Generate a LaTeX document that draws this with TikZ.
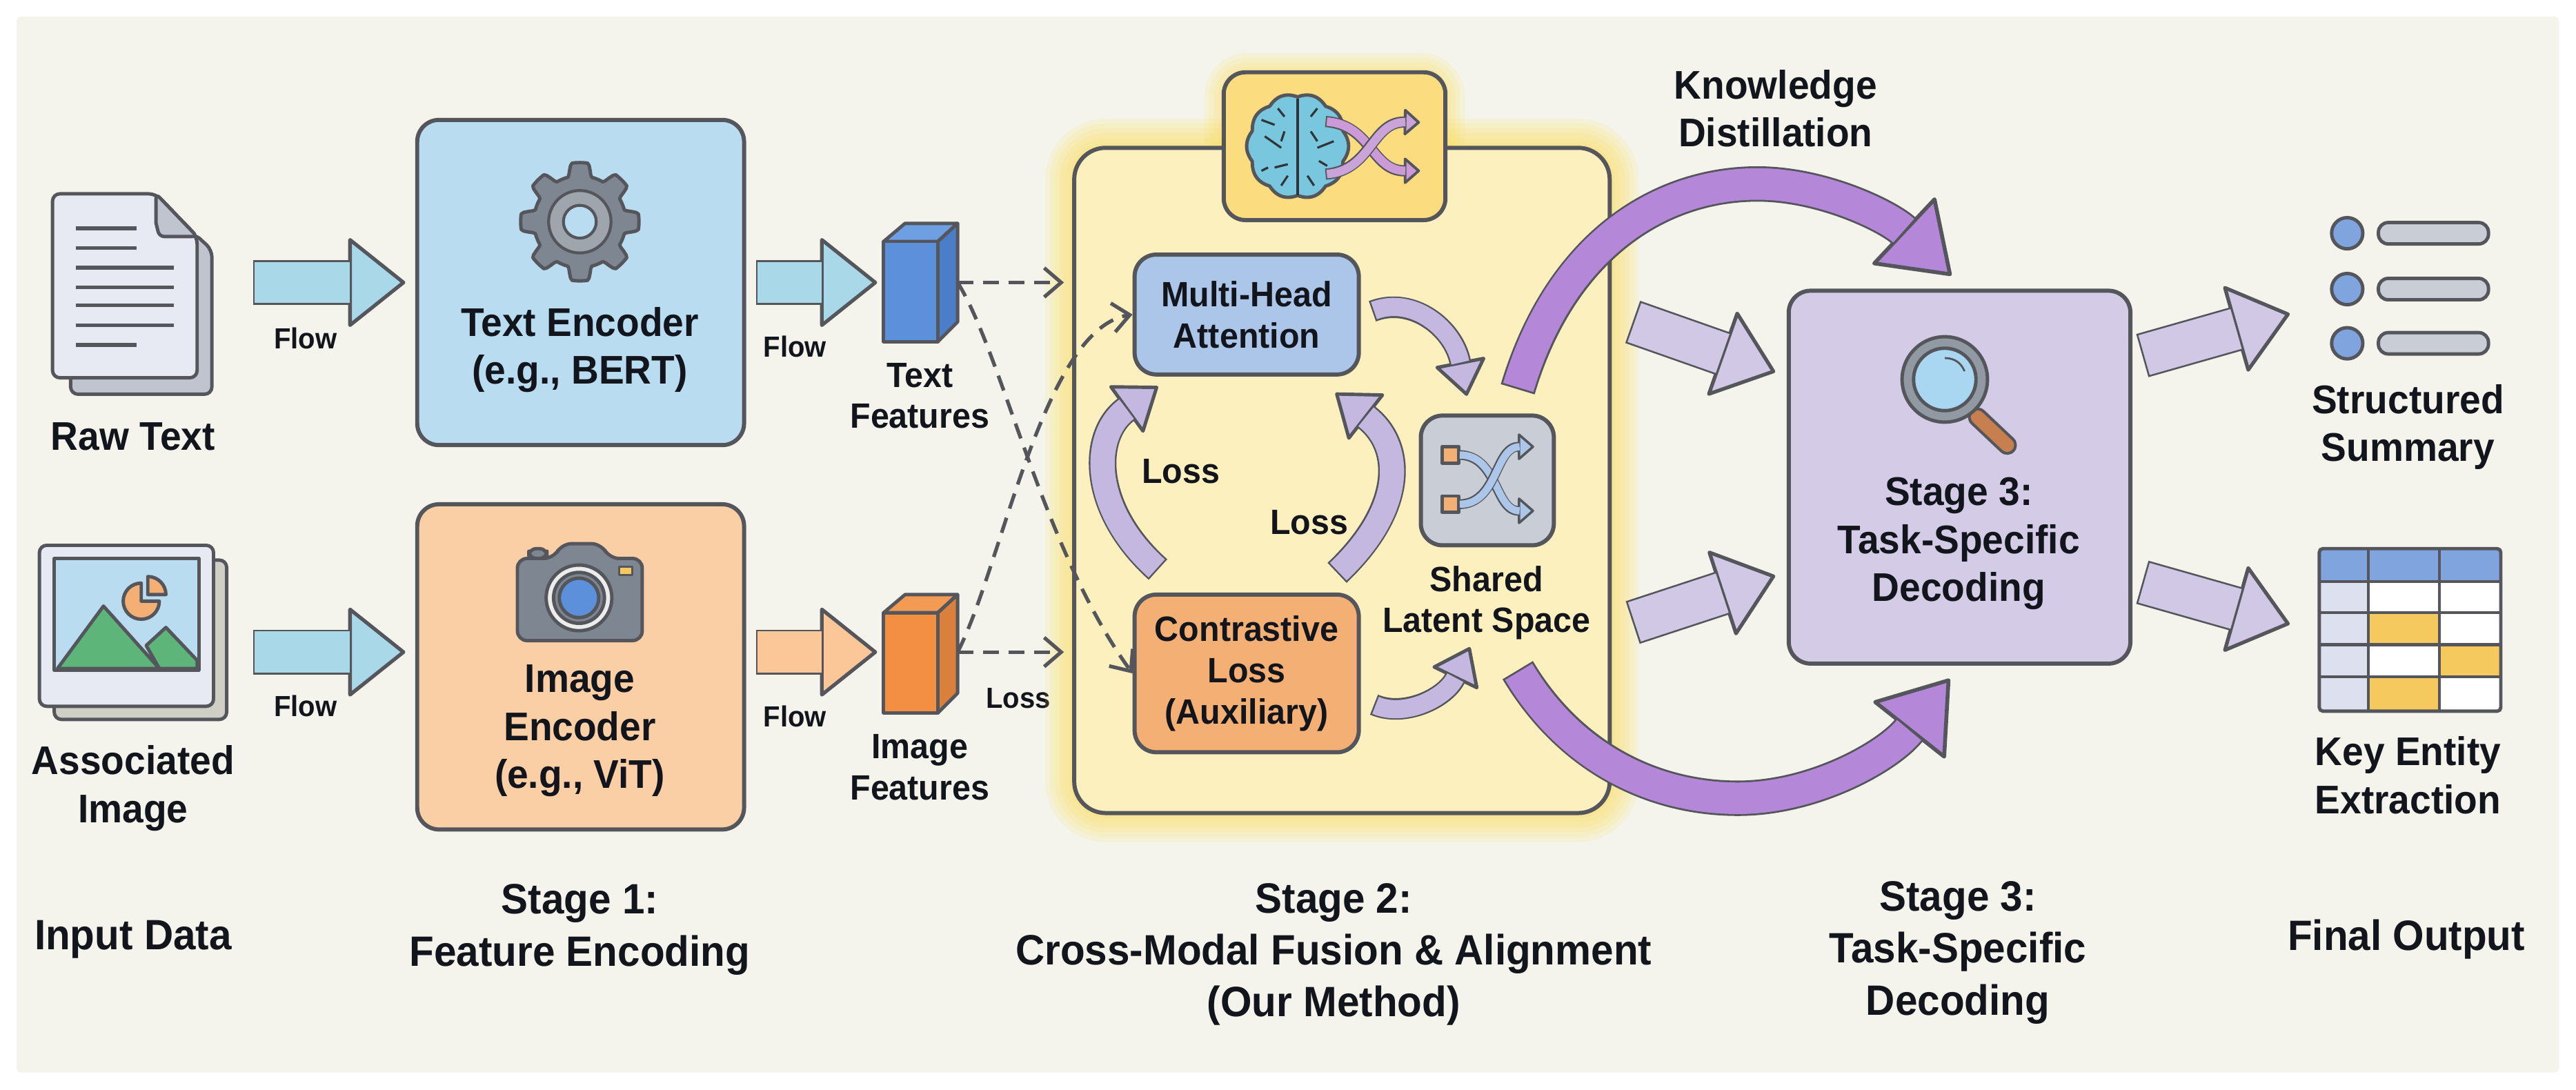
\documentclass[tikz,border=0pt]{standalone}
\usepackage{fontspec}
\usepackage{xcolor}
\setmainfont{Liberation Sans}[FakeStretch=0.95]
\usetikzlibrary{arrows.meta,calc}
\definecolor{pagebg}{HTML}{F4F4EC}
\definecolor{linegray}{HTML}{54565C}
\definecolor{inkdark}{HTML}{12151C}
\definecolor{encblue}{HTML}{B9DCF1}
\definecolor{encorange}{HTML}{FBCFA6}
\definecolor{flowblue}{HTML}{A9D8E9}
\definecolor{floworange}{HTML}{FBC698}
\definecolor{softpurple}{HTML}{D0C8E5}
\definecolor{midpurple}{HTML}{C5B8E0}
\definecolor{deeppurple}{HTML}{B487D9}
\definecolor{stagepurple}{HTML}{D4CCE7}
\definecolor{panelyellow}{HTML}{FDF0BF}
\definecolor{tabyellow}{HTML}{FBDC7E}
\definecolor{glowyellow}{HTML}{FFDF5C}
\definecolor{attblue}{HTML}{ABC6E8}
\definecolor{conorange}{HTML}{F4AF74}
\definecolor{sharedgray}{HTML}{C9CED6}
\definecolor{iconblue}{HTML}{7FA4DE}
\definecolor{icongray}{HTML}{7E8791}
\definecolor{cellyellow}{HTML}{F6C95E}
\definecolor{celllilac}{HTML}{DDE0EF}
\definecolor{sheetlight}{HTML}{E8EAF3}
\definecolor{sheetback}{HTML}{BFC4CF}
\definecolor{photoback}{HTML}{CFCFC5}
\definecolor{hillgreen}{HTML}{5DB57A}
\definecolor{lensblue}{HTML}{A9D7F2}
\definecolor{handlebrown}{HTML}{C77F50}
\definecolor{brainblue}{HTML}{79C6DF}
\definecolor{crosspink}{HTML}{CC9AD6}
\definecolor{cubeblue}{HTML}{5C90DB}
\definecolor{cubebluetop}{HTML}{6E9FE3}
\definecolor{cubeblueside}{HTML}{4A7EC8}
\definecolor{cubeorange}{HTML}{F28F42}
\definecolor{cubeorangetop}{HTML}{F39A55}
\definecolor{cubeorangeside}{HTML}{D9803C}
\newcommand{\tu}{0.2381mm}
\tikzset{
  stagebox/.style={draw=linegray, line width=1.7pt, rounded corners=9pt, inner sep=0pt, minimum width=#1},
  biglabel/.style={font=\bfseries\fontsize{16.5}{19.8}\selectfont, align=center, inner sep=0pt, text=inkdark},
  caption/.style={font=\bfseries\fontsize{17.5}{21.4}\selectfont, align=center, inner sep=0pt, text=inkdark},
  midlabel/.style={font=\bfseries\fontsize{14.5}{17}\selectfont, align=center, inner sep=0pt, text=inkdark},
  smalllabel/.style={font=\bfseries\fontsize{12}{14}\selectfont, inner sep=0pt, text=inkdark},
  iconline/.style={draw=linegray, line width=1.4pt, line join=round},
  dashline/.style={draw=linegray, line width=1.5pt, dash pattern=on 6.5pt off 4pt, -{Straight Barb[length=7pt,width=12pt]}},
  fat/.style n args={5}{draw=#1, line width=#2, shorten >=#3-1pt, shorten <=#5/2,
    preaction={draw=linegray, line width=#2+#5, shorten >=0pt, shorten <=0pt,
      -{Triangle[round,length=#3,width=#4,fill=#1,line width=#5]}}},
  flowarrow/.style={fat={#1}{17pt}{24pt}{38pt}{1.5pt}},
  looparrow/.style={fat={midpurple}{7.5pt}{15pt}{22pt}{1.4pt}},
  lossarrow/.style={fat={midpurple}{10pt}{17pt}{25pt}{1.4pt}},
  distarrow/.style={fat={deeppurple}{13pt}{28pt}{39pt}{1.6pt}}
}

\begin{document}
\begin{tikzpicture}[x=0.2381mm, y=-0.2381mm]
  \useasboundingbox (0,0) rectangle (1568.3,663.6);
  \fill[pagebg, rounded corners=2pt] (10,10) rectangle (1558,653);

  \draw[iconline, fill=sheetback, rounded corners=3pt] (43,225) -- (43,240) -- (129,240) -- (129,152) -- (118,142) -- cycle;
  \draw[iconline, fill=sheetlight, rounded corners=3pt] (32,118) -- (95,118) -- (120,144) -- (120,230) -- (32,230) -- cycle;
  \draw[iconline, fill=sheetback] (95,118) -- (95,136) [rounded corners=2pt] -- (97,144) -- (120,144) -- cycle;
  \foreach \yy/\xe in {139/83,151/83,163/106,175/106,186/106,198/106,210/83}
    \draw[linegray, line width=1.5pt] (46,\yy) -- (\xe,\yy);
  \node[biglabel] (rawtext) at (81,266) {Raw Text};

  \draw[iconline, fill=photoback, rounded corners=3pt] (33,341) rectangle (138,438);
  \draw[iconline, fill=sheetlight, rounded corners=3pt] (24,332) rectangle (130,430);
  \fill[encblue] (33,340) rectangle (121,408);
  \draw[iconline, fill=hillgreen] (35,407) -- (63,369) -- (97,407) -- cycle;
  \draw[iconline, fill=hillgreen] (89,393) -- (101,382) -- (120,402) -- (120,407) -- (97,407) -- cycle;
  \draw[iconline, fill=conorange] (86,366) -- ++(0,-11) arc[start angle=-90, end angle=-360, radius=11] -- cycle;
  \draw[iconline, fill=conorange] (90,362) -- ++(0,-11) arc[start angle=-90, end angle=0, radius=11] -- cycle;
  \draw[iconline] (33,340) rectangle (121,408);
  \node[biglabel] (assoc) at (81,480) {Associated\\Image};

  \node[stagebox=199*\tu, fill=encblue, minimum height=198*\tu] (textenc) at (353.5,172) {};
  \node[stagebox=199*\tu, fill=encorange, minimum height=198*\tu] (imageenc) at (353.5,406) {};
  \draw[linegray, line width=1.4pt, line join=round, fill=icongray] plot[domain=0:360, samples=193]
    ({353+(28+8*min(1,max(0,0.5+1.3*cos(8*\x))))*cos(\x)}, {135+(28+8*min(1,max(0,0.5+1.3*cos(8*\x))))*sin(\x)}) -- cycle;
  \draw[linegray, line width=1.2pt, fill=icongray!75] (353,135) circle (19);
  \draw[linegray, line width=1.2pt, fill=encblue] (353,135) circle (10);
  \node[biglabel] (textenclabel) at (353,213) {Text Encoder\\(e.g., BERT)};

  \draw[iconline, fill=icongray, rounded corners=3pt] (322,340) -- (322,334) -- (333,334) -- (333,340) -- cycle;
  \draw[iconline, fill=icongray, rounded corners=4pt] (315,340) -- (337,340) -- (342,331) -- (366,331) -- (371,340) -- (391,340) -- (391,390) -- (315,390) -- cycle;
  \draw[iconline, fill=gray!15] (352.5,364) circle (20);
  \draw[iconline, fill=icongray] (352.5,364) circle (15.5);
  \draw[iconline, fill=cubeblue] (352.5,364) circle (12);
  \draw[iconline, line width=1pt, fill=cellyellow] (377,345) rectangle (385,350);
  \node[biglabel] (imageenclabel) at (353,445) {Image\\Encoder\\(e.g., ViT)};

  \coordinate (textin) at (154,172);
  \coordinate (imagein) at (154,397);
  \draw[flowarrow=flowblue] (textin) -- ($(textenc.west)+(-6,0)$);
  \draw[flowarrow=flowblue] (imagein) -- ($(imageenc.west |- imagein)+(-6,0)$);
  \node[smalllabel] (flowa) at (186,206) {Flow};
  \node[smalllabel] (flowb) at (186,430) {Flow};

  \foreach \dy/\cfront/\cside/\ctop in {0/cubeblue/cubeblueside/cubebluetop, 226/cubeorange/cubeorangeside/cubeorangetop} {
    \draw[iconline, fill=\ctop] (538,147+\dy) -- (551,136+\dy) -- (583,136+\dy) -- (571,147+\dy) -- cycle;
    \draw[iconline, fill=\cside] (571,147+\dy) -- (583,136+\dy) -- (583,196+\dy) -- (571,208+\dy) -- cycle;
    \draw[iconline, fill=\cfront] (538,147+\dy) rectangle (571,208+\dy);
  }
  \coordinate (textcube) at (583,172);
  \coordinate (imagecube) at (583,397);
  \draw[flowarrow=flowblue] ($(textenc.east)+(6,0)$) -- (534,172);
  \draw[flowarrow=floworange] ($(imageenc.east |- imagecube)+(6,0)$) -- (534,397);
  \node[smalllabel] (flowc) at (484,211) {Flow};
  \node[smalllabel] (flowd) at (484,436) {Flow};
  \node[midlabel] (textfeat) at (560,241) {Text\\Features};
  \node[midlabel] (imagefeat) at (560,467) {Image\\Features};
  \node[smalllabel] (lossd) at (620,425) {Loss};

  \foreach \w in {24,20,16,12,8,4}
    \draw[glowyellow, opacity=0.14, line width=\w pt, rounded corners=13pt] (654,90) rectangle (980,495);
  \foreach \w in {16,12,8,4}
    \draw[glowyellow, opacity=0.14, line width=\w pt, rounded corners=10pt] (745,44) rectangle (880,134);
  \node[stagebox=326*\tu, fill=panelyellow, rounded corners=13pt, minimum height=405*\tu] (fusion) at (817,292.5) {};
  \node[stagebox=135*\tu, fill=tabyellow, minimum height=90*\tu] (braintab) at (812.5,89) {};

  \draw[linegray, line width=1.4pt, line join=round, fill=brainblue] plot[domain=0:360, samples=181]
    ({790+29*(1+0.07*abs(cos(5*\x)))*cos(\x)}, {89+30*(1+0.07*abs(cos(5*\x)))*sin(\x)}) -- cycle;
  \draw[linegray!60!black, line width=1.2pt] (790,60) -- (790,119);
  \foreach \px/\py/\qx/\qy in {778/66/782/71, 802/66/798/71, 768/73/776/76, 782/80/780/86, 798/80/802/86, 770/83/780/90, 812/86/802/90, 776/102/784/100, 803/98/808/101, 768/104/772/102, 780/113/784/107, 800/113/796/107}
    \draw[linegray!60!black, line width=0.9pt] (\px,\py) -- (\qx,\qy);
  \draw[fat={crosspink}{3.5pt}{7pt}{12pt}{1.1pt}] (807,74) .. controls (835,76) and (835,104) .. (864.5,104);
  \draw[fat={crosspink!70!midpurple}{3.5pt}{7pt}{12pt}{1.1pt}] (807,106) .. controls (835,104) and (835,74) .. (864.5,74.5);

  \node[stagebox=136.5*\tu, fill=attblue, minimum height=73*\tu] (attention) at (759,191.5) {};
  \node[stagebox=136.5*\tu, fill=conorange, minimum height=96*\tu] (contrast) at (759,410) {};
  \node[stagebox=81*\tu, fill=sharedgray, minimum height=79*\tu] (shared) at (905.5,292.5) {};
  \node[midlabel] at (759,191.5) (attentionlabel) {Multi-Head\\Attention};
  \node[midlabel] at (759,410) (contrastlabel) {Contrastive\\Loss\\(Auxiliary)};
  \node[midlabel] (sharedlabel) at (905,367) {Shared\\Latent Space};

  \draw[dashline] (textcube) -- ($(fusion.west |- textcube)+(-5,0)$);
  \draw[dashline] (imagecube) -- ($(fusion.west |- imagecube)+(-5,0)$);
  \draw[dashline] (textcube) .. controls (610,215) and (635,335) .. (contrast.west);
  \draw[dashline] (imagecube) .. controls (610,345) and (635,200) .. (attention.west);

  \draw[iconline, fill=conorange] (878,272) rectangle (888,282);
  \draw[iconline, fill=conorange] (878,302) rectangle (888,312);
  \draw[fat={attblue}{3pt}{7pt}{12pt}{1pt}] (888,277) .. controls (912,277) and (910,311) .. (934,311);
  \draw[fat={attblue}{3pt}{7pt}{12pt}{1pt}] (888,307) .. controls (912,307) and (910,272) .. (934,272);

  \draw[looparrow] ($(attention.east)+(7,-2)$) .. controls (860,180) and (885,200) .. (893,241);
  \draw[looparrow] ($(contrast.east)+(8,19)$) .. controls (855,437) and (880,425) .. (895,394);
  \draw[lossarrow] ($(contrast.north)+(-54,-14)$) .. controls (664,310) and (664,265) .. ($(attention.south)+(-54,6)$);
  \draw[lossarrow] ($(contrast.north)+(55,-12)$) .. controls (855,310) and (855,272) .. ($(attention.south)+(54,10)$);
  \node[midlabel] (lossa) at (719,287) {Loss};
  \node[midlabel] (lossb) at (797,318) {Loss};

  \node[stagebox=208*\tu, fill=stagepurple, minimum height=227*\tu] (decoder) at (1193,290.5) {};
  \draw[line width=8pt, linegray, line cap=round] (1204,254) -- (1222,271);
  \draw[line width=5.6pt, handlebrown, line cap=round] (1204,254) -- (1222,271);
  \draw[iconline, fill=icongray!85] (1184,231) circle (26);
  \draw[iconline, fill=lensblue] (1184,231) circle (19);
  \draw[linegray, line width=0.8pt] (1184,218) .. controls (1190,218) and (1194,221) .. (1196,226);
  \node[biglabel] (decoderlabel) at (1192.5,331) {Stage 3:\\Task-Specific\\Decoding};

  \draw[flowarrow=softpurple] (994,196) -- ($(decoder.west)+(-7,-64)$);
  \draw[flowarrow=softpurple] (994,379) -- ($(decoder.west)+(-7,60)$);
  \draw[flowarrow=softpurple] ($(decoder.east)+(6,-74)$) -- (1394,191);
  \draw[flowarrow=softpurple] ($(decoder.east)+(6,64)$) -- (1394,380);
  \draw[distarrow] (924,237) .. controls (950,150) and (1010,112) .. (1070,112) .. controls (1110,112) and (1150,132) .. ($(decoder.north)+(-5,-8)$);
  \draw[distarrow] (924,408) .. controls (955,460) and (1005,486) .. (1058,486) .. controls (1105,486) and (1150,460) .. ($(decoder.south)+(-6,8)$);
  \node[biglabel] (distlabel) at (1081,66) {Knowledge\\Distillation};

  \foreach \yy in {142,176,209} {
    \draw[iconline, fill=iconblue] (1429,\yy) circle (9.5);
    \draw[iconline, fill=sharedgray, rounded corners=4pt] (1448,\yy-6.5) rectangle (1515,\yy+6.5);
  }
  \node[biglabel] (summary) at (1466,260) {Structured\\Summary};

  \fill[iconblue] (1412,334) rectangle (1522.5,354);
  \fill[celllilac] (1412,354) rectangle (1442,433);
  \fill[white] (1442,354) rectangle (1522.5,433);
  \foreach \xa/\xb/\ya/\yb in {1442/1485/373/392.5,1485/1522.5/392.5/412,1442/1485/412/433}
    \fill[cellyellow] (\xa,\ya) rectangle (\xb,\yb);
  \foreach \yy in {354,373,392.5,412}
    \draw[linegray, line width=1.2pt] (1412,\yy) -- (1522.5,\yy);
  \foreach \xx in {1442,1485}
    \draw[linegray, line width=1.2pt] (\xx,334) -- (\xx,433);
  \draw[iconline, rounded corners=1.5pt] (1412,334) rectangle (1522.5,433);
  \node[biglabel] (entities) at (1466,472) {Key Entity\\Extraction};

  \node[caption] (inputcap) at (81,572) {Input Data};
  \node[caption] (stageone) at (353,566) {Stage 1:\\Feature Encoding};
  \node[caption] (stagetwo) at (812,581) {Stage 2:\\Cross-Modal Fusion \& Alignment\\(Our Method)};
  \node[caption] (stagethree) at (1192,580) {Stage 3:\\Task-Specific\\Decoding};
  \node[caption] (finalcap) at (1465,572) {Final Output};
\end{tikzpicture}
\end{document}
